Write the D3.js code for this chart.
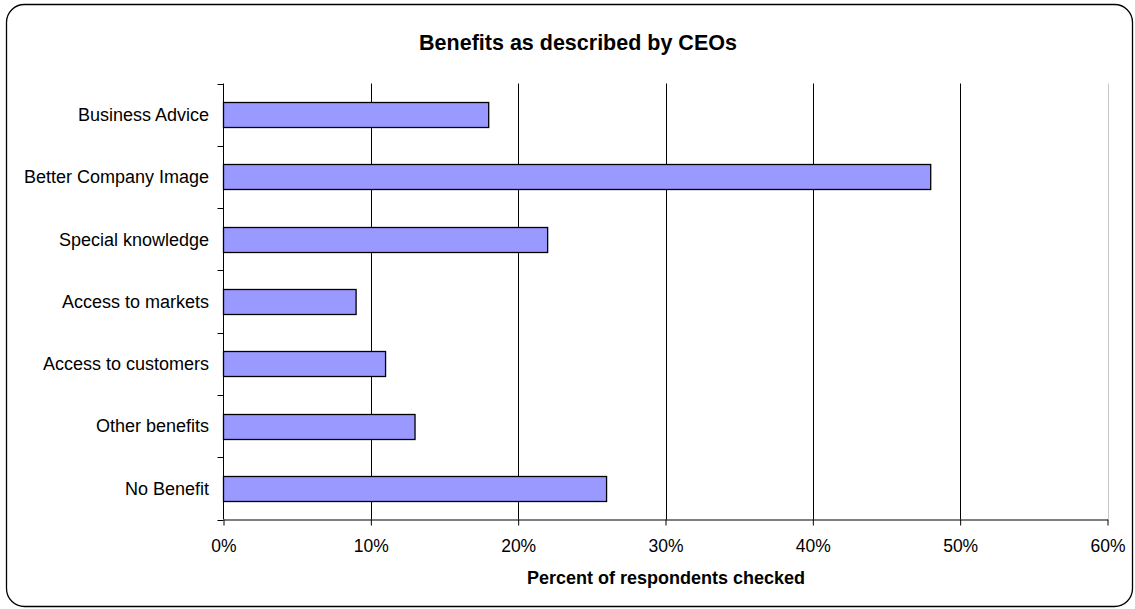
<!DOCTYPE html>
<html>
<head>
<meta charset="utf-8">
<script src="https://cdn.jsdelivr.net/npm/d3@7"></script>
<style>
  body { margin: 0; background: #fff; }
  svg { display: block; font-family: "Liberation Sans", Arial, sans-serif; }
</style>
</head>
<body>
<div id="chart"></div>
<script>
// chart data
var categories = ["Business Advice", "Better Company Image", "Special knowledge",
    "Access to markets", "Access to customers", "Other benefits", "No Benefit"];
var values = [0.18, 0.48, 0.22, 0.09, 0.11, 0.13, 0.26];
var xTicks = [0, 0.1, 0.2, 0.3, 0.4, 0.5, 0.6];

var width = 1135, height = 609;
var margin = { top: 83.5, right: 28, bottom: 90, left: 223.5 };

var svg = d3.select("#chart").append("svg")
    .attr("width", width)
    .attr("height", height);

// rounded outer frame
svg.append("rect")
    .attr("x", 6.5).attr("y", 4.5)
    .attr("width", 1126).attr("height", 602)
    .attr("rx", 18).attr("ry", 18)
    .attr("fill", "#fff")
    .attr("stroke", "#000")
    .attr("stroke-width", 1.3);

var x = d3.scaleLinear()
    .domain([0, 0.6])
    .range([margin.left, 1107.5]);

var y = d3.scaleBand()
    .domain(categories)
    .range([margin.top, 519.5])
    .padding(0);

// gridlines
svg.append("g").selectAll("line")
    .data(xTicks.slice(1))
    .enter().append("line")
    .attr("x1", function(d) { return Math.round(x(d)) + 0.5; })
    .attr("x2", function(d) { return Math.round(x(d)) + 0.5; })
    .attr("y1", y.range()[0])
    .attr("y2", y.range()[1])
    .attr("stroke", function(d) { return d === 0.6 ? "#c8c8c8" : "#000"; })
    .attr("stroke-width", 1);

// bars
svg.append("g").selectAll("rect")
    .data(values)
    .enter().append("rect")
    .attr("x", x(0))
    .attr("y", function(d, i) { return Math.round(y(categories[i]) + y.bandwidth() * 0.3) + 0.5; })
    .attr("width", function(d) { return x(d) - x(0); })
    .attr("height", Math.round(y.bandwidth() * 0.4))
    .attr("fill", "#9999ff")
    .attr("stroke", "#000")
    .attr("stroke-width", 1.3);

// y axis line and ticks at band edges
var yEdges = categories.map(function(c) { return y(c); }).concat([y.range()[1]]);
svg.append("line")
    .attr("x1", x(0)).attr("x2", x(0))
    .attr("y1", y.range()[0]).attr("y2", y.range()[1])
    .attr("stroke", "#000");
svg.append("g").selectAll("line")
    .data(yEdges)
    .enter().append("line")
    .attr("x1", x(0) - 6).attr("x2", x(0))
    .attr("y1", function(d) { return Math.round(d) + 0.5; })
    .attr("y2", function(d) { return Math.round(d) + 0.5; })
    .attr("stroke", "#000");

// category labels
svg.append("g").selectAll("text")
    .data(categories)
    .enter().append("text")
    .attr("x", 209)
    .attr("y", function(d) { return y(d) + y.bandwidth() / 2; })
    .attr("dy", "0.35em")
    .attr("text-anchor", "end")
    .attr("font-size", "18px")
    .attr("fill", "#000")
    .text(function(d) { return d; });

// x axis
var xAxis = svg.append("g")
    .attr("transform", "translate(0," + y.range()[1] + ")")
    .call(d3.axisBottom(x)
        .tickValues(xTicks)
        .tickFormat(d3.format(".0%"))
        .tickSize(6)
        .tickSizeOuter(0)
        .tickPadding(14));
xAxis.select(".domain").attr("stroke", "#000");
xAxis.selectAll(".tick line").attr("stroke", "#000");
xAxis.selectAll(".tick text")
    .attr("font-family", "\"Liberation Sans\", Arial, sans-serif")
    .attr("font-size", "17.5px")
    .attr("fill", "#000");

// titles
svg.append("text")
    .attr("x", 578)
    .attr("y", 50)
    .attr("text-anchor", "middle")
    .attr("font-size", "21.5px")
    .attr("font-weight", "bold")
    .text("Benefits as described by CEOs");

svg.append("text")
    .attr("x", 666)
    .attr("y", 584)
    .attr("text-anchor", "middle")
    .attr("font-size", "18px")
    .attr("font-weight", "bold")
    .text("Percent of respondents checked");
</script>
</body>
</html>
